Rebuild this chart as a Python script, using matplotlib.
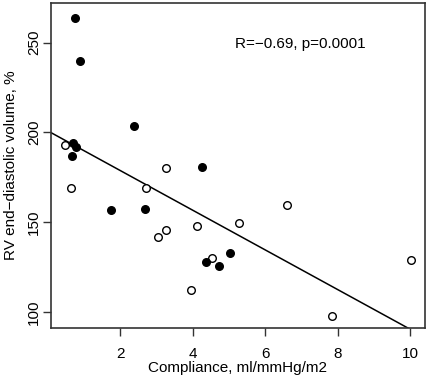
import numpy as np
import matplotlib
matplotlib.use("Agg")
import matplotlib.pyplot as plt

# gruppo pieno
x_pieni = [0.76, 0.88, 2.38, 0.69, 0.77, 0.66, 4.26, 1.75, 2.67, 5.03, 4.36, 4.72]
y_pieni = [263.6, 239.6, 203.7, 194.2, 191.9, 186.7, 180.9, 156.8, 157.6, 132.8, 127.7, 125.8]

# gruppo vuoto
x_vuoti = [0.47, 3.27, 0.63, 2.71, 5.27, 4.12, 3.25, 3.04, 4.54, 3.96, 6.60, 10.02, 7.84]
y_vuoti = [192.8, 180.0, 169.0, 169.0, 149.8, 147.7, 145.8, 141.7, 130.0, 112.6, 159.7, 128.8, 97.8]

# retta di regressione
intercetta = 200.9
pendenza = -11.05

testo = "R=\u22120.69, p=0.0001"
x_ticks = [2, 4, 6, 8, 10]
y_ticks = [100, 150, 200, 250]

plt.rcParams['font.family'] = ['Liberation Sans', 'DejaVu Sans']
plt.rcParams['font.size'] = 11

fig = plt.figure(figsize=(4.27, 3.78), dpi=100)
ax = fig.add_axes([51/427, 1-328/378, 374/427, 325.3/378])

ax.set_xlim(0.09, 10.4)
ax.set_ylim(91.2, 272.2)

xx = np.array(ax.get_xlim())
ax.plot(xx, intercetta + pendenza*xx, color="k", lw=1.1)

ax.scatter(x_vuoti, y_vuoti, s=30, facecolors="white", edgecolors="k", linewidths=1.0, zorder=3)
ax.scatter(x_pieni, y_pieni, s=30, facecolors="k", edgecolors="k", linewidths=1.0, zorder=3)

ax.text(6.95, 246.9, testo, ha="center", va="baseline", fontsize=11)

ax.set_xticks(x_ticks)
ax.set_yticks(y_ticks)
ax.set_yticklabels([str(v) for v in y_ticks], rotation=90, va="center")
ax.tick_params(length=5.5, width=1, color="#333333")
ax.tick_params(axis="x", pad=8)
ax.tick_params(axis="y", pad=1.5)
for s in ax.spines.values():
    s.set_color("#333333")
    s.set_linewidth(1.2)

ax.set_xlabel("Compliance, ml/mmHg/m2", labelpad=0.5)
ax.set_ylabel("RV end\u2212diastolic volume, %", labelpad=6.5)

fig.savefig("out.png", dpi=100)
